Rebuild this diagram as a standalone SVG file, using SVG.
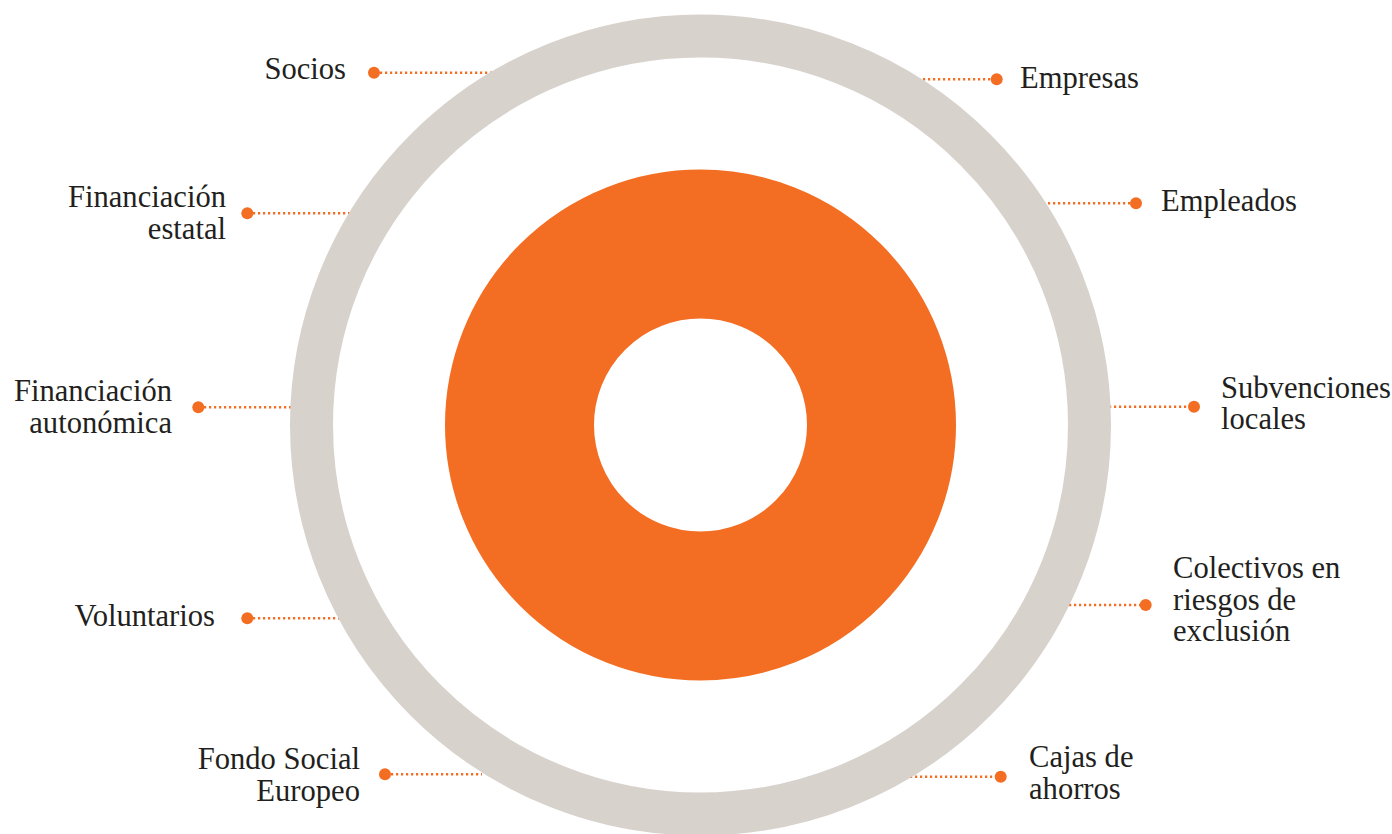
<svg xmlns="http://www.w3.org/2000/svg" width="1392" height="834" viewBox="0 0 1392 834">
<style>
.lbl{font-family:"Liberation Serif","Times New Roman",serif;font-size:30.6px;fill:#231F20}
.end{text-anchor:end}
.ld{stroke:#F36E22;stroke-width:2.5;stroke-dasharray:2.2 2.8;fill:none}
.dot{fill:#F36E22}
</style>
<rect width="1392" height="834" fill="#FFFFFF"/>
<g id="connectors">
<line class="ld" x1="380" y1="72.7" x2="494" y2="72.7"/>
<circle class="dot" cx="374" cy="72.7" r="6"/>
<line class="ld" x1="253" y1="213.3" x2="354" y2="213.3"/>
<circle class="dot" cx="247.3" cy="213.3" r="6"/>
<line class="ld" x1="204" y1="407.3" x2="298" y2="407.3"/>
<circle class="dot" cx="198.3" cy="407.3" r="6"/>
<line class="ld" x1="253" y1="618.3" x2="345" y2="618.3"/>
<circle class="dot" cx="247.3" cy="618.3" r="6"/>
<line class="ld" x1="391" y1="774.3" x2="482" y2="774.3"/>
<circle class="dot" cx="385" cy="774.3" r="6"/>
<line class="ld" x1="908" y1="79.3" x2="991" y2="79.3"/>
<circle class="dot" cx="996.7" cy="79.3" r="6"/>
<line class="ld" x1="1038" y1="203.3" x2="1130" y2="203.3"/>
<circle class="dot" cx="1136" cy="203.3" r="6"/>
<line class="ld" x1="1104" y1="406.7" x2="1188" y2="406.7"/>
<circle class="dot" cx="1194" cy="406.7" r="6"/>
<line class="ld" x1="1064" y1="605" x2="1140" y2="605"/>
<circle class="dot" cx="1145.7" cy="605" r="6"/>
<line class="ld" x1="905" y1="776.7" x2="995" y2="776.7"/>
<circle class="dot" cx="1000.7" cy="776.7" r="6"/>
</g>
<g id="outer-ring">
<circle cx="700.5" cy="425" r="389" fill="none" stroke="#D8D2CD" stroke-width="43"/>
</g>
<g id="inner-ring">
<circle cx="700.5" cy="425" r="181" fill="none" stroke="#F36E22" stroke-width="149"/>
</g>
<g id="socios"><text class="lbl end" x="346" y="79">Socios</text></g>
<g id="financiacion-estatal"><text class="lbl end" x="226" y="207">Financiación</text><text class="lbl end" x="226" y="239">estatal</text></g>
<g id="financiacion-autonomica"><text class="lbl end" x="172" y="401">Financiación</text><text class="lbl end" x="172" y="433">autonómica</text></g>
<g id="voluntarios"><text class="lbl end" x="215" y="626">Voluntarios</text></g>
<g id="fondo-social-europeo"><text class="lbl end" x="360" y="769">Fondo Social</text><text class="lbl end" x="360" y="801">Europeo</text></g>
<g id="empresas"><text class="lbl" x="1020" y="88">Empresas</text></g>
<g id="empleados"><text class="lbl" x="1161" y="211">Empleados</text></g>
<g id="subvenciones-locales"><text class="lbl" x="1221" y="398">Subvenciones</text><text class="lbl" x="1221" y="429">locales</text></g>
<g id="colectivos"><text class="lbl" x="1173" y="578">Colectivos en</text><text class="lbl" x="1173" y="610">riesgos de</text><text class="lbl" x="1173" y="641">exclusión</text></g>
<g id="cajas-de-ahorros"><text class="lbl" x="1029" y="767">Cajas de</text><text class="lbl" x="1029" y="799">ahorros</text></g>
</svg>
